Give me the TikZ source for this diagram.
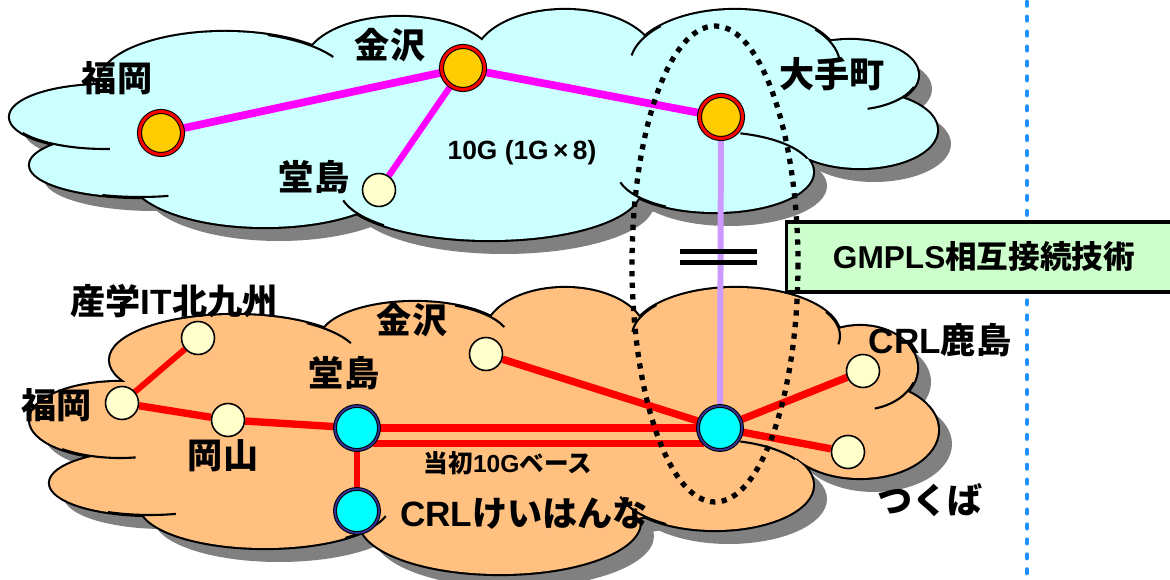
\documentclass[tikz,border=0pt]{standalone}
\usepackage{fontspec}
\setmainfont{Liberation Sans}
\newfontfamily\jpfont{Noto Sans CJK JP Bold}
\newcommand\jp[1]{{\jpfont #1}}
\pgfdeclarelayer{back}
\pgfdeclarelayer{edges}
\pgfsetlayers{back,edges,main}
\definecolor{skycloud}{HTML}{CCFFFF}
\definecolor{peachcloud}{HTML}{FFC080}
\definecolor{shadowgray}{HTML}{808080}
\definecolor{hubyellow}{HTML}{FFCC00}
\definecolor{hubcyan}{HTML}{00FFFF}
\definecolor{ringnavy}{HTML}{333399}
\definecolor{siteyellow}{HTML}{FFFFCC}
\definecolor{linkmagenta}{HTML}{FF00FF}
\definecolor{linkred}{HTML}{FF0000}
\definecolor{linklilac}{HTML}{CC99FF}
\definecolor{boxgreen}{HTML}{CCFFCC}
\definecolor{borderblue}{HTML}{1E90FF}
\def\toplobes{105/117/95/32, 140/165/110/32, 225/82/125/50, 265/175/135/52, 400/65/95/48, 565/60/90/50, 735/65/105/55, 850/75/68/35, 860/130/77/38, 715/172/98/40, 490/190/150/50, 480/130/300/80, 780/120/60/30}
\def\botlobes{235/360/125/45, 120/420/90/38, 150/483/100/32, 265/505/125/43, 500/522/140/52, 715/485/98/45, 860/368/57/42, 860/430/78/48, 736/336/104/48, 415/340/95/38, 565/335/80/47, 480/430/330/100, 790/400/60/40}
\newcommand\lobearc[6]{\draw[hook] ([shift={(#1,#2)}]#5:#3 and #4) arc[start angle=#5, end angle=#6, x radius=#3, y radius=#4];}
\begin{document}
\begin{tikzpicture}[x=0.02cm, y=-0.02cm,
  hubtop/.style={circle, minimum size=0.86cm, inner sep=0pt, fill=hubyellow, draw=black, double=red, double distance=1.7pt, line width=0.6pt},
  hubbot/.style={circle, minimum size=0.88cm, inner sep=0pt, fill=hubcyan, draw=black, double=ringnavy, double distance=1pt, line width=0.6pt},
  site/.style={circle, minimum size=0.66cm, inner sep=0pt, fill=siteyellow, draw=black, line width=0.9pt},
  lbl/.style={font=\bfseries\fontsize{20}{24}\selectfont, inner sep=0pt},
  toplink/.style={linkmagenta, line width=4.4pt},
  botlink/.style={linkred, line width=4.2pt},
  hook/.style={line width=1.2pt}]
\useasboundingbox (0,0) rectangle (1170,580);
\begin{pgfonlayer}{back}
\foreach \cx/\cy/\rx/\ry in \toplobes
  \fill[shadowgray] (\cx+14,\cy+14) ellipse[x radius=\rx, y radius=\ry];
\foreach \cx/\cy/\rx/\ry in \botlobes
  \fill[shadowgray] (\cx+14,\cy+14) ellipse[x radius=\rx, y radius=\ry];
\foreach \cx/\cy/\rx/\ry in \toplobes
  \draw[line width=2.4pt] (\cx,\cy) ellipse[x radius=\rx, y radius=\ry];
\foreach \cx/\cy/\rx/\ry in \toplobes
  \fill[skycloud] (\cx,\cy) ellipse[x radius=\rx, y radius=\ry];
\foreach \cx/\cy/\rx/\ry in \botlobes
  \draw[line width=2.4pt] (\cx,\cy) ellipse[x radius=\rx, y radius=\ry];
\foreach \cx/\cy/\rx/\ry in \botlobes
  \fill[peachcloud] (\cx,\cy) ellipse[x radius=\rx, y radius=\ry];
\lobearc{105}{117}{95}{32}{150}{87}
\lobearc{140}{165}{110}{32}{110}{75}
\lobearc{225}{82}{125}{50}{-70}{-30}
\lobearc{490}{190}{150}{50}{168}{135}
\lobearc{735}{65}{105}{55}{-170}{-135}
\lobearc{735}{65}{105}{55}{-40}{-5}
\lobearc{850}{75}{68}{35}{20}{75}
\lobearc{715}{172}{98}{40}{-75}{-20}
\lobearc{715}{172}{98}{40}{120}{165}
\lobearc{235}{360}{125}{45}{-55}{-22}
\lobearc{120}{420}{90}{38}{130}{80}
\lobearc{150}{483}{100}{32}{115}{75}
\lobearc{265}{505}{125}{43}{50}{15}
\lobearc{415}{340}{95}{38}{-65}{-20}
\lobearc{736}{336}{104}{48}{-175}{-140}
\lobearc{736}{336}{104}{48}{-30}{10}
\lobearc{860}{368}{57}{42}{20}{75}
\lobearc{715}{485}{98}{45}{-75}{-35}
\lobearc{715}{485}{98}{45}{120}{165}
\end{pgfonlayer}

\draw[borderblue, line width=2.6pt, line cap=round, dash pattern=on 2pt off 6.5pt] (1027,2) -- (1027,580);
\node[draw=black, line width=2pt, fill=boxgreen, minimum width=7.9cm, minimum height=1.4cm,
  font=\bfseries\fontsize{18}{22}\selectfont] (gmpls) at (984,257) {GMPLS\jp{相互接続技術}};

\node[hubtop] (fukT) at (161,133) {};
\node[hubtop] (kanT) at (463,68) {};
\node[hubtop] (otemachi) at (721,117) {};
\node[site] (dojT) at (379,190) {};
\node[site] (kyushu) at (198,338) {};
\node[site] (fukB) at (122,403) {};
\node[site] (okayama) at (228,420) {};
\node[hubbot] (dojB) at (357,428) {};
\node[hubbot] (keihanna) at (357,511) {};
\node[site] (kanB) at (486,354) {};
\node[hubbot] (hubC) at (720,428) {};
\node[site] (kashima) at (863,371) {};
\node[site] (tsukuba) at (848,452) {};

\node[lbl] (fukTL) at (117,78) {\jp{福岡}};
\node[lbl] (kanTL) at (390,45) {\jp{金沢}};
\node[lbl] (otemachiL) at (832,74) {\jp{大手町}};
\node[lbl] (dojTL) at (314,177) {\jp{堂島}};
\node[lbl, font=\bfseries\fontsize{15}{18}\selectfont] (rateL) at (522,153) {10G (1G\,×\,8)};
\node[lbl] (kyushuL) at (174,301) {\jp{産学}IT\jp{北九州}};
\node[lbl] (kanBL) at (412,320) {\jp{金沢}};
\node[lbl] (dojBL) at (344,373) {\jp{堂島}};
\node[lbl] (fukBL) at (57,405) {\jp{福岡}};
\node[lbl] (okayamaL) at (223,456) {\jp{岡山}};
\node[lbl, font=\bfseries\fontsize{14}{17}\selectfont] (baseL) at (508,463) {\jp{当初}10G\jp{ベース}};
\node[lbl] (keihannaL) at (524,513) {CRL\jp{けいはんな}};
\node[lbl] (kashimaL) at (940,340) {CRL\jp{鹿島}};
\node[lbl] (tsukubaL) at (930,500) {\jp{つくば}};

\begin{pgfonlayer}{edges}
\draw[toplink] (fukT) -- (kanT);
\draw[toplink] (kanT) -- (otemachi);
\draw[toplink, line width=3.6pt] (kanT) -- (dojT);
\draw[linklilac, line width=3.4pt] (otemachi) -- (hubC);
\draw[botlink, line width=3.4pt] (fukB) -- (kyushu);
\draw[botlink] (fukB) -- (okayama);
\draw[botlink] (okayama) -- (dojB);
\draw[botlink] (dojB) -- (hubC);
\draw[botlink] (dojB.-43) -- (hubC.-137);
\draw[botlink, line width=3.6pt] (dojB) -- (keihanna);
\draw[botlink] (kanB) -- (hubC);
\draw[botlink] (hubC) -- (kashima);
\draw[botlink] (hubC) -- (tsukuba);
\end{pgfonlayer}

\draw[line width=2.8pt] (680,251.5) -- (757,251.5);
\draw[line width=2.8pt] (680,262.5) -- (757,262.5);
\draw[line width=3pt, dash pattern=on 3pt off 3.6pt] (715,264) ellipse[x radius=83, y radius=238];
\end{tikzpicture}
\end{document}
